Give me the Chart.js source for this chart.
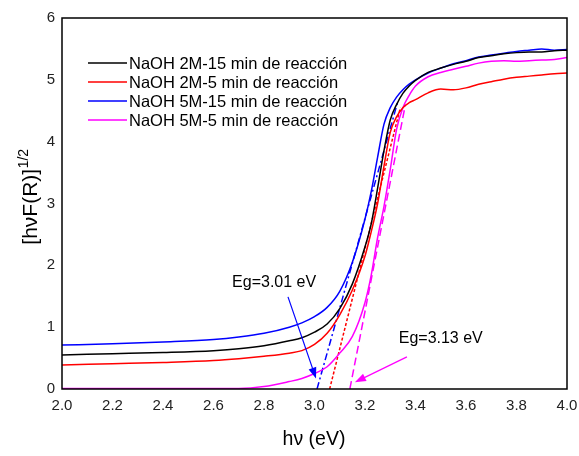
<!DOCTYPE html>
<html>
<head>
<meta charset="utf-8">
<script src="https://cdn.jsdelivr.net/npm/chart.js@4.4.1/dist/chart.umd.min.js"></script>
<style>
  html, body { margin: 0; padding: 0; background: #fff; }
  #wrap { width: 579px; height: 456px; }
</style>
</head>
<body>
<div id="wrap"><canvas id="c" width="579" height="456"></canvas></div>
<script>
// ---- Data ----
const energy = [2.0, 2.2, 2.4, 2.6, 2.7, 2.8, 2.9, 2.95, 3.0, 3.05, 3.1, 3.15, 3.2, 3.225, 3.25, 3.275, 3.3, 3.325, 3.35, 3.375, 3.4, 3.45, 3.5, 3.55, 3.6, 3.65, 3.7, 3.75, 3.8, 3.85, 3.9, 3.95, 4.0];

const naoh2M15 = [0.55, 0.57, 0.59, 0.62, 0.65, 0.70, 0.78, 0.83, 0.92, 1.05, 1.30, 1.70, 2.30, 2.68, 3.25, 3.85, 4.35, 4.60, 4.78, 4.90, 4.99, 5.12, 5.19, 5.25, 5.30, 5.36, 5.39, 5.42, 5.44, 5.45, 5.45, 5.47, 5.48];
const naoh2M5  = [0.39, 0.41, 0.43, 0.46, 0.49, 0.53, 0.58, 0.62, 0.72, 0.90, 1.20, 1.60, 2.15, 2.55, 3.00, 3.60, 4.15, 4.40, 4.55, 4.63, 4.68, 4.79, 4.85, 4.84, 4.87, 4.93, 4.97, 5.01, 5.04, 5.06, 5.08, 5.10, 5.11];
const naoh5M15 = [0.71, 0.73, 0.76, 0.80, 0.84, 0.90, 1.00, 1.07, 1.17, 1.32, 1.58, 2.05, 2.75, 3.20, 3.75, 4.28, 4.55, 4.72, 4.84, 4.93, 5.00, 5.11, 5.19, 5.26, 5.31, 5.37, 5.40, 5.43, 5.46, 5.48, 5.50, 5.48, 5.49];
const naoh5M5  = [0.01, 0.01, 0.01, 0.01, 0.01, 0.04, 0.12, 0.17, 0.25, 0.36, 0.58, 0.85, 1.40, 1.85, 2.45, 2.95, 3.55, 4.20, 4.55, 4.75, 4.90, 5.05, 5.12, 5.17, 5.22, 5.27, 5.30, 5.31, 5.30, 5.31, 5.32, 5.33, 5.36];

const seriesLabels = ['NaOH 2M-15 min de reacción', 'NaOH 2M-5 min de reacción', 'NaOH 5M-15 min de reacción', 'NaOH 5M-5 min de reacción'];
const seriesColors = ['#000000', '#ff0000', '#0000ff', '#ff00ff'];

// Tangent (Tauc) lines: [x0, y0, x1, y1]
const tangentBlue    = [3.01, 0, 3.33, 4.65];
const tangentRed     = [3.06, 0, 3.34, 4.55];
const tangentMagenta = [3.14, 0, 3.36, 4.60];

// Annotations (arrow start x,y -> arrow end x,y), data units
const arrowBlue    = [2.895, 1.49, 3.006, 0.17];
const arrowMagenta = [3.366, 0.52, 3.16, 0.11];
const labelBlue    = { text: 'Eg=3.01 eV', x: 2.84, y: 1.72 };
const labelMagenta = { text: 'Eg=3.13 eV', x: 3.50, y: 0.82 };

const xTickLabels = ['2.0', '2.2', '2.4', '2.6', '2.8', '3.0', '3.2', '3.4', '3.6', '3.8', '4.0'];
const yTickLabels = ['0', '1', '2', '3', '4', '5', '6'];

// ---- Build datasets ----
function pts(ys) { return energy.map((x, i) => ({ x: x, y: ys[i] })); }
function seg(a) { return [{ x: a[0], y: a[1] }, { x: a[2], y: a[3] }]; }

const seriesValues = [naoh2M15, naoh2M5, naoh5M15, naoh5M5];
const datasets = seriesValues.map((v, i) => ({
  label: seriesLabels[i],
  data: pts(v),
  borderColor: seriesColors[i],
  borderWidth: 1.5,
  pointRadius: 0,
  showLine: true,
  cubicInterpolationMode: 'monotone'
}));
datasets.push({ label: 'tb', data: seg(tangentBlue), borderColor: '#0000ff', borderWidth: 1.5, borderDash: [7, 3, 2, 3], pointRadius: 0, showLine: true });
datasets.push({ label: 'tr', data: seg(tangentRed), borderColor: '#ff0000', borderWidth: 1.5, borderDash: [3, 2], pointRadius: 0, showLine: true });
datasets.push({ label: 'tm', data: seg(tangentMagenta), borderColor: '#ff00ff', borderWidth: 1.5, borderDash: [8, 4], pointRadius: 0, showLine: true });

const FONT = 'Arial, "Liberation Sans", sans-serif';

const decor = {
  id: 'decor',
  afterDraw(chart) {
    const ctx = chart.ctx;
    const a = chart.chartArea;
    const xs = chart.scales.x, ys = chart.scales.y;
    ctx.save();
    // frame
    ctx.strokeStyle = '#000';
    ctx.lineWidth = 1.5;
    ctx.strokeRect(a.left, a.top, a.right - a.left, a.bottom - a.top);

    // legend
    ctx.font = '16.5px ' + FONT;
    ctx.textBaseline = 'middle';
    ctx.textAlign = 'left';
    for (let i = 0; i < seriesLabels.length; i++) {
      const y = 63 + i * 19;
      ctx.strokeStyle = seriesColors[i];
      ctx.lineWidth = 1.5;
      ctx.beginPath();
      ctx.moveTo(88, y);
      ctx.lineTo(127, y);
      ctx.stroke();
      ctx.fillStyle = '#000';
      ctx.fillText(seriesLabels[i], 129, y + 1);
    }

    // arrows
    function arrow(arr, color) {
      const x0 = xs.getPixelForValue(arr[0]), y0 = ys.getPixelForValue(arr[1]);
      const x1 = xs.getPixelForValue(arr[2]), y1 = ys.getPixelForValue(arr[3]);
      const ang = Math.atan2(y1 - y0, x1 - x0);
      const L = 11, W = 4;
      ctx.strokeStyle = color; ctx.fillStyle = color; ctx.lineWidth = 1.2;
      ctx.beginPath();
      ctx.moveTo(x0, y0);
      ctx.lineTo(x1 - L * 0.8 * Math.cos(ang), y1 - L * 0.8 * Math.sin(ang));
      ctx.stroke();
      ctx.beginPath();
      ctx.moveTo(x1, y1);
      ctx.lineTo(x1 - L * Math.cos(ang) + W * Math.sin(ang), y1 - L * Math.sin(ang) - W * Math.cos(ang));
      ctx.lineTo(x1 - L * Math.cos(ang) - W * Math.sin(ang), y1 - L * Math.sin(ang) + W * Math.cos(ang));
      ctx.closePath();
      ctx.fill();
    }
    arrow(arrowBlue, '#0000ff');
    arrow(arrowMagenta, '#ff00ff');

    // Eg labels
    ctx.fillStyle = '#000';
    ctx.font = '16px ' + FONT;
    ctx.textAlign = 'center';
    ctx.textBaseline = 'middle';
    ctx.fillText(labelBlue.text, xs.getPixelForValue(labelBlue.x), ys.getPixelForValue(labelBlue.y));
    ctx.fillText(labelMagenta.text, xs.getPixelForValue(labelMagenta.x), ys.getPixelForValue(labelMagenta.y));

    // x title
    ctx.font = '19.5px ' + FONT;
    ctx.fillText('h\u03bd (eV)', 314, 440);

    // y title with superscript
    ctx.translate(37, 197);
    ctx.rotate(-Math.PI / 2);
    ctx.textAlign = 'left';
    ctx.textBaseline = 'alphabetic';
    const main = '[h\u03bdF(R)]';
    const sup = '1/2';
    ctx.font = '21px ' + FONT;
    const wm = ctx.measureText(main).width;
    ctx.font = '14px ' + FONT;
    const wsup = ctx.measureText(sup).width;
    const start = -(wm + wsup) / 2;
    ctx.font = '21px ' + FONT;
    ctx.fillText(main, start, 0);
    ctx.font = '14px ' + FONT;
    ctx.fillText(sup, start + wm + 0.5, -9);
    ctx.restore();
  }
};

new Chart(document.getElementById('c'), {
  type: 'scatter',
  data: { datasets: datasets },
  options: {
    responsive: false,
    animation: false,
    devicePixelRatio: 1,
    layout: { padding: { top: 18, right: 12, left: 0, bottom: 0 } },
    plugins: { legend: { display: false }, tooltip: { enabled: false } },
    scales: {
      x: {
        type: 'linear', min: 2, max: 4,
        grid: { display: false, drawTicks: false },
        border: { display: false },
        afterFit(s) { s.height = 67; s.paddingLeft = 0; s.paddingRight = 0; },
        afterBuildTicks(s) { s.ticks = xTickLabels.map(t => ({ value: parseFloat(t) })); },
        ticks: {
          padding: 8, color: '#222', font: { size: 15, family: FONT },
          callback: (v) => xTickLabels.find(t => Math.abs(parseFloat(t) - v) < 1e-6) || ''
        }
      },
      y: {
        type: 'linear', min: 0, max: 6,
        grid: { display: false, drawTicks: false },
        border: { display: false },
        afterFit(s) { s.width = 62; s.paddingTop = 0; s.paddingBottom = 0; },
        afterBuildTicks(s) { s.ticks = yTickLabels.map(t => ({ value: parseFloat(t) })); },
        ticks: {
          padding: 7, color: '#222', font: { size: 15, family: FONT },
          callback: (v) => yTickLabels.find(t => Math.abs(parseFloat(t) - v) < 1e-6) || ''
        }
      }
    }
  },
  plugins: [decor]
});
</script>
</body>
</html>
